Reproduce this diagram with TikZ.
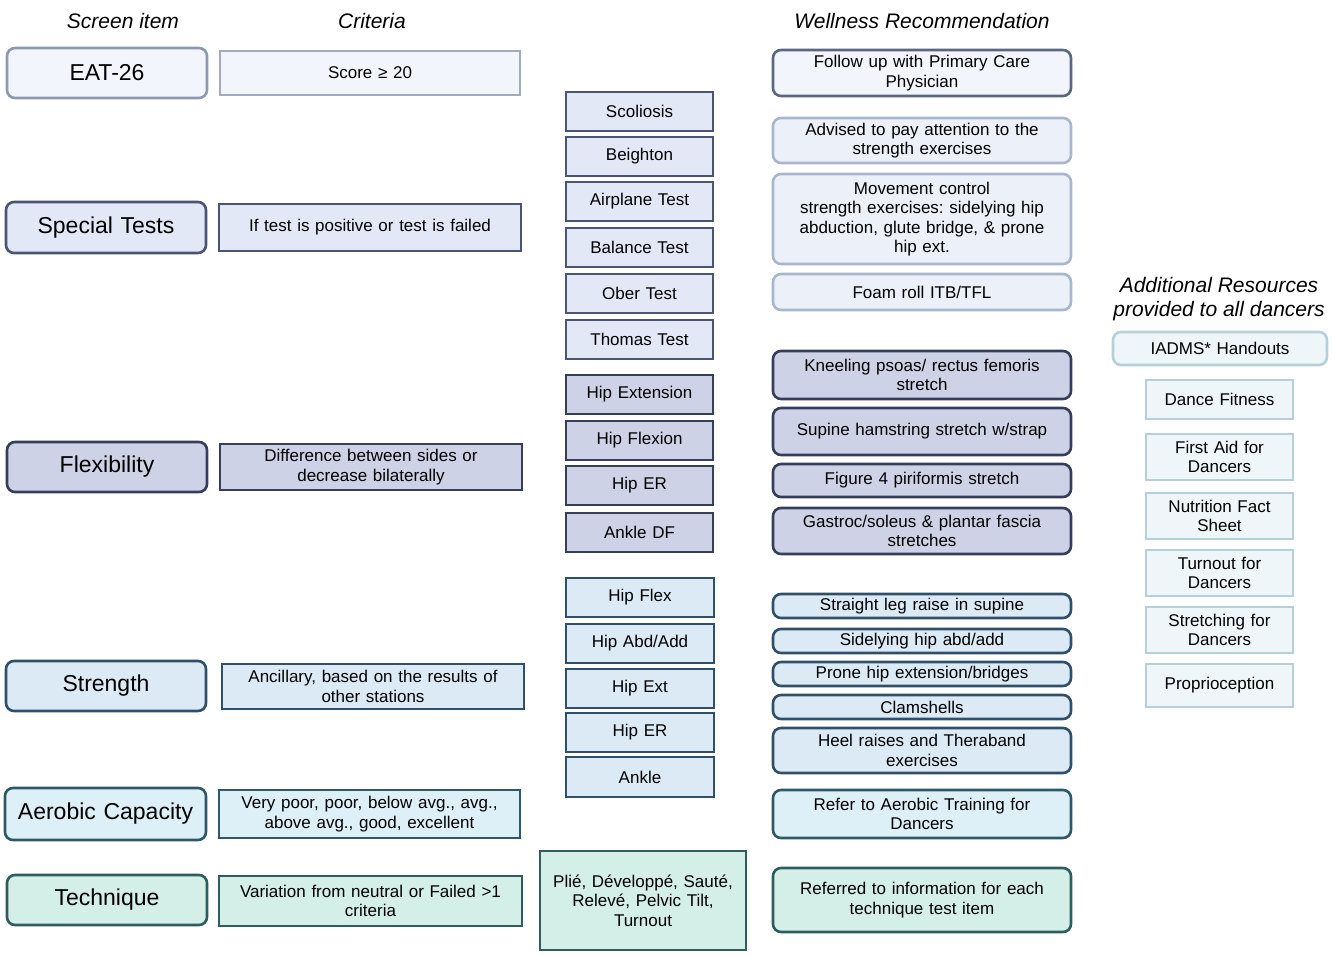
\documentclass[tikz,border=0pt]{standalone}
\usepackage{fontspec}
\setmainfont{Liberation Sans}
\frenchspacing
\definecolor{eatF}{HTML}{F2F5FB}\definecolor{eatD}{HTML}{8E98AE}\definecolor{eatC}{HTML}{A2ABBD}\definecolor{eatW}{HTML}{5B6680}
\definecolor{spF}{HTML}{E3E8F7}\definecolor{spD}{HTML}{4B5573}\definecolor{spWF}{HTML}{EBF0F9}\definecolor{spWD}{HTML}{A8B6CE}
\definecolor{flF}{HTML}{CDD2E6}\definecolor{flD}{HTML}{363E5A}
\definecolor{stF}{HTML}{DCEAF6}\definecolor{stD}{HTML}{30506A}
\definecolor{aeF}{HTML}{DDF0F8}\definecolor{aeD}{HTML}{2E5868}
\definecolor{teF}{HTML}{D4EEE8}\definecolor{teD}{HTML}{2F5C5C}
\definecolor{adF}{HTML}{EEF6F9}\definecolor{adD}{HTML}{B5D0D8}
\newcommand{\bx}[7]{%
 \pgfmathsetmacro\bw{#5-#3}\pgfmathsetmacro\bh{#6-#4}\pgfmathsetmacro\tw{#5-#3-12}%
 \node[#1, minimum width=\bw pt, minimum height=\bh pt, text width=\tw pt] (#2) at ({(#3+#5)/2},{(#4+#6)/2}) {#7};}
\begin{document}
\begin{tikzpicture}[x=1pt,y=-1pt,
  base/.style={inner sep=0pt, align=center, line width=2.6pt, font=\fontsize{17}{19.5}\selectfont},
  rnd/.style={base, rounded corners=8pt},
  sq/.style={base},
  big/.style={font=\fontsize{23}{26}\selectfont},
  hdr/.style={inner sep=0pt, align=center, font=\fontsize{21}{24}\selectfont\itshape}]
\useasboundingbox (0,0) rectangle (1333,957);
% headers
\node[hdr] (h1) at (123,21) {Screen item};
\node[hdr] (h2) at (372,21) {Criteria};
\node[hdr] (h3) at (922,21) {Wellness Recommendation};
\node[hdr] (h4) at (1219,299) {Additional Resources\\provided to all dancers};
% column 1
\bx{rnd,big,draw=eatD,fill=eatF}{s1}{7}{48}{207}{98}{EAT-26}
\bx{rnd,big,draw=spD,fill=spF}{s2}{6}{202}{206}{253}{Special Tests}
\bx{rnd,big,draw=flD,fill=flF}{s3}{7}{442}{207}{492}{Flexibility}
\bx{rnd,big,draw=stD,fill=stF}{s4}{6}{661}{206}{711}{Strength}
\bx{rnd,big,draw=aeD,fill=aeF}{s5}{5}{788}{206}{840}{Aerobic Capacity}
\bx{rnd,big,draw=teD,fill=teF}{s6}{7}{875}{207}{925}{Technique}
% column 2
\bx{sq,draw=eatC,fill=eatF}{c1}{220}{51}{520}{95}{Score ≥ 20}
\bx{sq,draw=spD,fill=spF}{c2}{219}{204}{521}{251}{If test is positive or test is failed}
\bx{sq,draw=flD,fill=flF}{c3}{220}{444}{522}{490}{Difference between sides or\\decrease bilaterally}
\bx{sq,draw=stD,fill=stF}{c4}{222}{664}{524}{709}{Ancillary, based on the results of\\other stations}
\bx{sq,draw=aeD,fill=aeF}{c5}{219}{790}{520}{838}{Very poor, poor, below avg., avg.,\\above avg., good, excellent}
\bx{sq,draw=teD,fill=teF}{c6}{219}{876}{522}{926}{Variation from neutral or Failed >1\\criteria}
% column 3
\bx{sq,draw=spD,fill=spF}{m1}{566}{92}{713}{131}{Scoliosis}
\bx{sq,draw=spD,fill=spF}{m2}{566}{137}{713}{176}{Beighton}
\bx{sq,draw=spD,fill=spF}{m3}{566}{182}{713}{221}{Airplane Test}
\bx{sq,draw=spD,fill=spF}{m4}{566}{228}{713}{267}{Balance Test}
\bx{sq,draw=spD,fill=spF}{m5}{566}{274}{713}{313}{Ober Test}
\bx{sq,draw=spD,fill=spF}{m6}{566}{320}{713}{359}{Thomas Test}
\bx{sq,draw=flD,fill=flF}{m7}{566}{375}{713}{414}{Hip Extension}
\bx{sq,draw=flD,fill=flF}{m8}{566}{421}{713}{460}{Hip Flexion}
\bx{sq,draw=flD,fill=flF}{m9}{566}{466}{713}{505}{Hip ER}
\bx{sq,draw=flD,fill=flF}{m10}{566}{513}{713}{552}{Ankle DF}
\bx{sq,draw=stD,fill=stF}{m11}{566}{578}{714}{617}{Hip Flex}
\bx{sq,draw=stD,fill=stF}{m12}{566}{624}{714}{663}{Hip Abd/Add}
\bx{sq,draw=stD,fill=stF}{m13}{566}{669}{714}{708}{Hip Ext}
\bx{sq,draw=stD,fill=stF}{m14}{566}{713}{714}{752}{Hip ER}
\bx{sq,draw=stD,fill=stF}{m15}{566}{757}{714}{797}{Ankle}
\bx{sq,draw=teD,fill=teF}{m16}{540}{851}{746}{950}{Plié, Développé, Sauté,\\Relevé, Pelvic Tilt,\\Turnout}
% column 4
\bx{rnd,draw=eatW,fill=eatF}{w1}{773}{50}{1071}{96}{Follow up with Primary Care\\Physician}
\bx{rnd,draw=spWD,fill=spWF}{w2}{773}{118}{1071}{163}{Advised to pay attention to the\\strength exercises}
\bx{rnd,draw=spWD,fill=spWF}{w3}{773}{174}{1071}{264}{Movement control\\strength exercises: sidelying hip\\abduction, glute bridge, \& prone\\hip ext.}
\bx{rnd,draw=spWD,fill=spWF}{w4}{773}{274}{1071}{310}{Foam roll ITB/TFL}
\bx{rnd,draw=flD,fill=flF}{w5}{773}{351}{1071}{399}{Kneeling psoas/ rectus femoris\\stretch}
\bx{rnd,draw=flD,fill=flF}{w6}{773}{408}{1071}{455}{Supine hamstring stretch w/strap}
\bx{rnd,draw=flD,fill=flF}{w7}{773}{464}{1071}{497}{Figure 4 piriformis stretch}
\bx{rnd,draw=flD,fill=flF}{w8}{773}{508}{1071}{554}{Gastroc/soleus \& plantar fascia\\stretches}
\bx{rnd,draw=stD,fill=stF}{w9}{773}{594}{1071}{618}{Straight leg raise in supine}
\bx{rnd,draw=stD,fill=stF}{w10}{773}{629}{1071}{653}{Sidelying hip abd/add}
\bx{rnd,draw=stD,fill=stF}{w11}{773}{662}{1071}{686}{Prone hip extension/bridges}
\bx{rnd,draw=stD,fill=stF}{w12}{773}{695}{1071}{719}{Clamshells}
\bx{rnd,draw=stD,fill=stF}{w13}{773}{728}{1071}{773}{Heel raises and Theraband\\exercises}
\bx{rnd,draw=aeD,fill=aeF}{w14}{773}{790}{1071}{838}{Refer to Aerobic Training for\\Dancers}
\bx{rnd,draw=teD,fill=teF}{w15}{773}{868}{1071}{932}{Referred to information for each\\technique test item}
% column 5
\bx{rnd,draw=adD,fill=adF}{a0}{1113}{332}{1327}{365}{IADMS* Handouts}
\bx{sq,draw=adD,fill=adF}{a1}{1146}{380}{1293}{419}{Dance Fitness}
\bx{sq,draw=adD,fill=adF}{a2}{1146}{434}{1293}{480}{First Aid for\\Dancers}
\bx{sq,draw=adD,fill=adF}{a3}{1146}{493}{1293}{539}{Nutrition Fact\\Sheet}
\bx{sq,draw=adD,fill=adF}{a4}{1146}{550}{1293}{596}{Turnout for\\Dancers}
\bx{sq,draw=adD,fill=adF}{a5}{1146}{607}{1293}{653}{Stretching for\\Dancers}
\bx{sq,draw=adD,fill=adF}{a6}{1146}{664}{1293}{707}{Proprioception}
\end{tikzpicture}
\end{document}
